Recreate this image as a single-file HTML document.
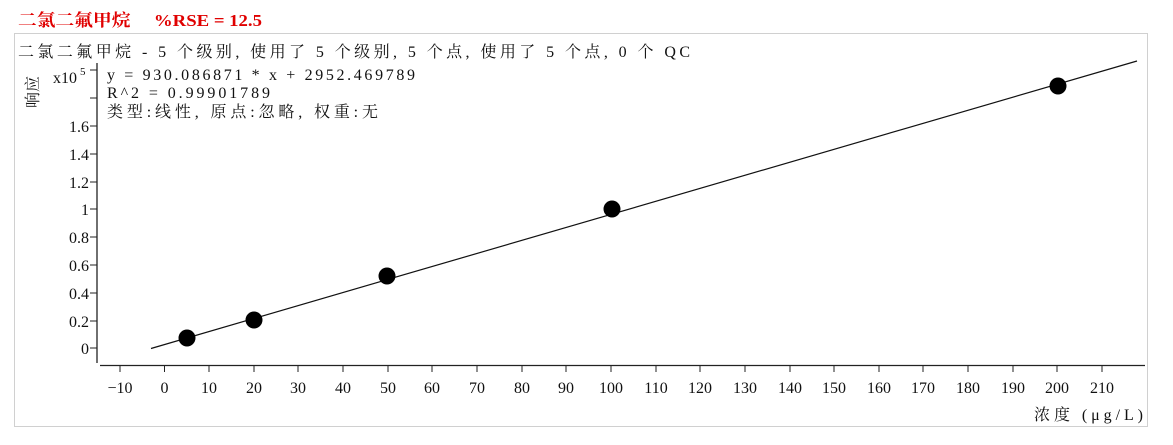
<!DOCTYPE html>
<html><head><meta charset="utf-8"><style>
body{margin:0;background:#fff;}
svg text{font-family:"Liberation Serif","Noto Serif CJK SC",serif;}
</style></head><body>
<svg width="1173" height="440" xmlns="http://www.w3.org/2000/svg">
<text x="18" y="26" font-size="17" font-weight="bold" fill="#e00000" textLength="244" lengthAdjust="spacingAndGlyphs" font-family="'Liberation Mono','Noto Sans CJK SC',monospace">二氯二氟甲烷　 %RSE = 12.5</text>
<rect x="14.5" y="33.5" width="1133" height="393" fill="none" stroke="#d0d0d0"/>
<text x="18" y="57" font-size="16" fill="#111" textLength="672" lengthAdjust="spacing">二氯二氟甲烷 - 5 个级别, 使用了 5 个级别, 5 个点, 使用了 5 个点, 0 个 QC</text>
<text transform="translate(38,92) rotate(-90)" font-size="16" fill="#111" text-anchor="middle">响应</text>
<text x="53" y="83" font-size="16" fill="#111">x10</text><text x="80" y="75" font-size="11" fill="#111">5</text>
<text x="107" y="80" font-size="16" fill="#111" textLength="308" lengthAdjust="spacing">y = 930.086871 * x  + 2952.469789</text>
<text x="107" y="98" font-size="16" fill="#111" textLength="163" lengthAdjust="spacing">R^2 = 0.99901789</text>
<text x="107" y="117" font-size="16" fill="#111" textLength="271" lengthAdjust="spacing">类型:线性, 原点:忽略, 权重:无</text>
<g stroke="#222" stroke-width="1.3" fill="none">
<line x1="97" y1="63" x2="97" y2="363"/>
<line x1="100" y1="365.5" x2="1145" y2="365.5"/>
</g>
<g stroke="#222" stroke-width="1">
<line x1="90" y1="70" x2="97" y2="70"/><line x1="90" y1="98" x2="97" y2="98"/>
<line x1="90" y1="126" x2="97" y2="126"/><line x1="90" y1="154" x2="97" y2="154"/>
<line x1="90" y1="182" x2="97" y2="182"/><line x1="90" y1="209" x2="97" y2="209"/>
<line x1="90" y1="237" x2="97" y2="237"/><line x1="90" y1="265" x2="97" y2="265"/>
<line x1="90" y1="293" x2="97" y2="293"/><line x1="90" y1="321" x2="97" y2="321"/>
<line x1="90" y1="348" x2="97" y2="348"/>
</g>
<g font-size="16" fill="#111" text-anchor="end">
<text x="89" y="132">1.6</text><text x="89" y="160">1.4</text><text x="89" y="188">1.2</text>
<text x="89" y="215">1</text><text x="89" y="243">0.8</text><text x="89" y="271">0.6</text>
<text x="89" y="299">0.4</text><text x="89" y="327">0.2</text><text x="89" y="354">0</text>
</g>
<g font-size="16" fill="#111" text-anchor="middle">
<text x="120" y="393">−10</text><text x="164.5" y="393">0</text><text x="209" y="393">10</text>
<text x="254" y="393">20</text><text x="298" y="393">30</text><text x="343" y="393">40</text>
<text x="388" y="393">50</text><text x="432" y="393">60</text><text x="477" y="393">70</text>
<text x="522" y="393">80</text><text x="566" y="393">90</text><text x="611" y="393">100</text>
<text x="656" y="393">110</text><text x="700" y="393">120</text><text x="745" y="393">130</text>
<text x="790" y="393">140</text><text x="834" y="393">150</text><text x="879" y="393">160</text>
<text x="923" y="393">170</text><text x="968" y="393">180</text><text x="1013" y="393">190</text>
<text x="1057" y="393">200</text><text x="1102" y="393">210</text>
</g>
<g stroke="#222" stroke-width="1">
<path d="M120 366v6M164.5 366v6M209 366v6M254 366v6M298 366v6M343 366v6M388 366v6M432 366v6M477 366v6M522 366v6M566 366v6M611 366v6M656 366v6M700 366v6M745 366v6M790 366v6M834 366v6M879 366v6M923 366v6M968 366v6M1013 366v6M1057 366v6M1102 366v6"/>
</g>
<text x="1034" y="420" font-size="16" fill="#111" textLength="109" lengthAdjust="spacing">浓度 (μg/L)</text>
<line x1="151" y1="348.5" x2="1137" y2="61" stroke="#111" stroke-width="1.2"/>
<g fill="#000">
<circle cx="187" cy="338" r="8.5"/><circle cx="254" cy="320" r="8.5"/>
<circle cx="387" cy="276" r="8.5"/><circle cx="612" cy="209" r="8.5"/>
<circle cx="1058" cy="86" r="8.5"/>
</g>
</svg>
</body></html>
